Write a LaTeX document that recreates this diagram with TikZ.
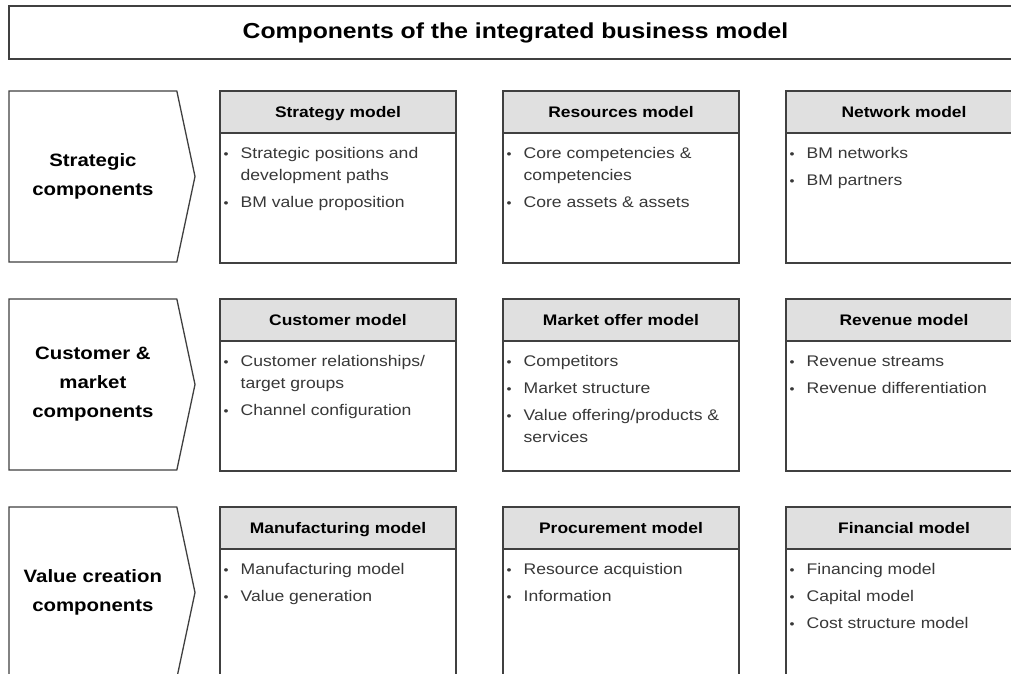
\documentclass[tikz,border=0pt]{standalone}
\usepackage{fontspec}
\setmainfont{Liberation Sans}[FakeStretch=1.14]
\usepackage{xcolor}
\usepackage{tikz}
\usetikzlibrary{positioning, shapes.symbols}
\definecolor{lineg}{RGB}{64,64,64}
\definecolor{hdrg}{RGB}{224,224,224}
\definecolor{textg}{RGB}{56,56,56}
\newcommand{\bul}{\raisebox{0.2pt}{\fontsize{12.5}{12.5}\selectfont\textbullet}}
\newcommand{\blist}[1]{\begin{tabular}{@{}l@{\hspace{12pt}}l@{}}#1\end{tabular}}

\begin{document}
\begin{tikzpicture}[
        x=1pt, y=-1pt,
        node distance = 36pt and 47pt,
        titlebox/.style = {draw=lineg, line width=1.5pt, minimum width=1013pt, minimum height=53pt, inner sep=0pt, outer sep=0pt, font=\fontsize{21.7}{24}\selectfont\bfseries},
        chev/.style = {signal, signal to=east, signal pointer angle=156, draw=lineg, line width=1.3pt, minimum width=186pt, minimum height=171pt, inner sep=0pt, outer sep=0pt, align=center, font=\fontsize{17.9}{29}\selectfont\bfseries},
        hdr/.style = {draw=lineg, fill=hdrg, line width=1.3pt, minimum width=236pt, minimum height=42pt, inner sep=0pt, outer sep=0pt, text height=12pt, text depth=1pt, font=\fontsize{15.3}{18}\selectfont\bfseries},
        body/.style = {draw=lineg, line width=1.3pt, minimum width=236pt, minimum height=130pt, inner sep=0pt, outer sep=0pt},
        lst/.style = {anchor=north west, inner sep=0pt, text=textg, font=\fontsize{15.4}{22}\selectfont}
    ]
        \useasboundingbox (0,0) rectangle (1011,674);
        \fill[white] (0,0) rectangle (1011,674);
        \clip (0,0) rectangle (1011,674);

        % Title
        \node (title) [titlebox, anchor=north west] at (9,6) {Components of the integrated business model};

        % Rows
        \node (strat) [chev, anchor=north west] at (9,91) {Strategic\\components};
        \node (cust) [chev, below=37pt of strat] {Customer \&\\market\\components};
        \node (valc) [chev, below=37pt of cust] {Value creation\\components};

        % Strategic components
        \node (h_strategy) [hdr, anchor=north west] at (220,91) {Strategy model};
        \node (b_strategy) [body, below=0pt of h_strategy] {};
        \node (h_resources) [hdr, right=of h_strategy] {Resources model};
        \node (b_resources) [body, below=0pt of h_resources] {};
        \node (h_network) [hdr, right=of h_resources] {Network model};
        \node (b_network) [body, below=0pt of h_network] {};

        % Customer & market components
        \node (h_customer) [hdr, below=of b_strategy] {Customer model};
        \node (b_customer) [body, below=0pt of h_customer] {};
        \node (h_offer) [hdr, right=of h_customer] {Market offer model};
        \node (b_offer) [body, below=0pt of h_offer] {};
        \node (h_revenue) [hdr, right=of h_offer] {Revenue model};
        \node (b_revenue) [body, below=0pt of h_revenue] {};

        % Value creation components
        \node (h_manufact) [hdr, below=of b_customer] {Manufacturing model};
        \node (b_manufact) [body, below=0pt of h_manufact] {};
        \node (h_procure) [hdr, right=of h_manufact] {Procurement model};
        \node (b_procure) [body, below=0pt of h_procure] {};
        \node (h_financial) [hdr, right=of h_procure] {Financial model};
        \node (b_financial) [body, below=0pt of h_financial] {};

        % Bullet lists
        \node (l_strategy) [lst] at ([xshift=3.5pt, yshift=-10pt]b_strategy.north west) {\blist{\bul & Strategic positions and\\ & development paths\\[5pt] \bul & BM value proposition}};
        \node (l_resources) [lst] at ([xshift=3.5pt, yshift=-10pt]b_resources.north west) {\blist{\bul & Core competencies \&\\ & competencies\\[5pt] \bul & Core assets \& assets}};
        \node (l_network) [lst] at ([xshift=3.5pt, yshift=-10pt]b_network.north west) {\blist{\bul & BM networks\\[5pt] \bul & BM partners}};

        \node (l_customer) [lst] at ([xshift=3.5pt, yshift=-10pt]b_customer.north west) {\blist{\bul & Customer relationships/\\ & target groups\\[5pt] \bul & Channel configuration}};
        \node (l_offer) [lst] at ([xshift=3.5pt, yshift=-10pt]b_offer.north west) {\blist{\bul & Competitors\\[5pt] \bul & Market structure\\[5pt] \bul & Value offering/products \&\\ & services}};
        \node (l_revenue) [lst] at ([xshift=3.5pt, yshift=-10pt]b_revenue.north west) {\blist{\bul & Revenue streams\\[5pt] \bul & Revenue differentiation}};

        \node (l_manufact) [lst] at ([xshift=3.5pt, yshift=-10pt]b_manufact.north west) {\blist{\bul & Manufacturing model\\[5pt] \bul & Value generation}};
        \node (l_procure) [lst] at ([xshift=3.5pt, yshift=-10pt]b_procure.north west) {\blist{\bul & Resource acquistion\\[5pt] \bul & Information}};
        \node (l_financial) [lst] at ([xshift=3.5pt, yshift=-10pt]b_financial.north west) {\blist{\bul & Financing model\\[5pt] \bul & Capital model\\[5pt] \bul & Cost structure model}};

    \end{tikzpicture}
\end{document}
